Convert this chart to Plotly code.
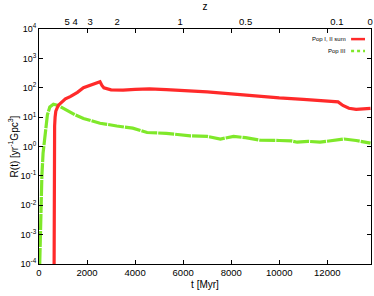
import plotly.graph_objects as go

# Pop I, II sum
t_pop12 = [625, 630, 650, 670, 700, 800, 1000, 1100, 1300, 1600, 1850, 2200, 2540, 2620, 2700,
           3000, 3500, 4000, 4600, 5300, 6300, 7000, 8000, 9000, 10000, 11000, 12000, 12450,
           12650, 12900, 13200, 13500, 13800]
r_pop12 = [1e-5, 0.5, 5, 10, 16, 25, 37, 42, 50, 70, 100, 125, 160, 120, 100,
           85, 83, 88, 92, 87, 80, 72, 62, 52, 45, 40, 35, 33,
           25, 20, 18.5, 19, 20]

# Pop III
t_pop3 = [30, 50, 80, 120, 170, 220, 280, 350, 450, 600, 800, 1150, 1500, 1850, 2200, 2540,
          3240, 3900, 4500, 5300, 6300, 7000, 7550, 8100, 8600, 9200, 10000, 10500, 10750,
          11200, 11700, 12200, 12700, 13200, 13650, 13800]
r_pop3 = [1e-4, 1e-3, 1e-2, 0.1, 0.6, 1.5, 5, 12, 22, 27.5, 25, 17, 12, 9, 7.5, 6.2,
          5, 4.2, 3.0, 2.8, 2.3, 2.2, 1.8, 2.2, 2.0, 1.65, 1.6, 1.55, 1.4,
          1.5, 1.4, 1.6, 1.8, 1.6, 1.4, 1.3]

# top axis: redshift labels at cosmic time positions
z_labels = ["5", "4", "3", "2", "1", "0.5", "0.1", "0"]
z_times = [1167, 1500, 2125, 3250, 5875, 8600, 12400, 13780]

x_ticks = [0, 2000, 4000, 6000, 8000, 10000, 12000]
x_ticktext = ["0", "2000", "4000", "6000", "8000", "10000", "12000"]
y_ticks = [1e-4, 1e-3, 1e-2, 1e-1, 1, 10, 100, 1000, 10000]
y_ticktext = ["10<sup>-4</sup>", "10<sup>-3</sup>", "10<sup>-2</sup>", "10<sup>-1</sup>",
              "10<sup>0</sup>", "10<sup>1</sup>", "10<sup>2</sup>", "10<sup>3</sup>", "10<sup>4</sup>"]

legend_names = ["Pop I, II sum", "Pop III"]
colors = ["#ff2a2a", "#7fe82a"]

XMAX = 13820
font = "Liberation Sans, Arial, sans-serif"

fig = go.Figure()
fig.add_trace(go.Scatter(x=t_pop3, y=r_pop3, mode="lines", name=legend_names[1],
                         line=dict(color=colors[1], width=3.2, dash="16px,1px"),
                         showlegend=False))
fig.add_trace(go.Scatter(x=t_pop12, y=r_pop12, mode="lines", name=legend_names[0],
                         line=dict(color=colors[0], width=3.2), showlegend=False))
# invisible trace for top axis
fig.add_trace(go.Scatter(x=[0, XMAX], y=[1, 1], xaxis="x2", mode="lines",
                         line=dict(width=0), hoverinfo="skip", showlegend=False, opacity=0))

axis_common = dict(showline=True, linecolor="black", linewidth=1, showgrid=False,
                   zeroline=False, ticks="inside", ticklen=4, tickcolor="black",
                   automargin=False)

fig.update_layout(
    width=374, height=296,
    margin=dict(l=39, r=3, t=29, b=32),
    paper_bgcolor="white", plot_bgcolor="white",
    font=dict(family=font, size=9, color="black"),
    xaxis=dict(range=[0, XMAX], tickvals=x_ticks, ticktext=x_ticktext, mirror="ticks",
               tickangle=0,
               title=dict(text="t [Myr]", font=dict(size=10), standoff=3),
               tickfont=dict(size=9.5), **axis_common),
    xaxis2=dict(range=[0, XMAX], overlaying="x", side="top", tickvals=z_times,
                ticktext=z_labels, ticks="", showline=False, showgrid=False,
                zeroline=False, tickfont=dict(size=9.5), tickangle=0, automargin=False,
                ticklabelstandoff=1,
                title=dict(text="z", font=dict(size=10), standoff=3)),
    yaxis=dict(type="log", range=[-4, 4], tickvals=y_ticks, ticktext=y_ticktext,
               mirror="ticks", tickfont=dict(size=9), tickangle=0,
               title=dict(text="R(t) [yr<sup>-1</sup>Gpc<sup>3</sup>]", font=dict(size=10), standoff=0),
               **axis_common),
)

# legend drawn as text + key lines in the top-right corner
leg_y = [0.957, 0.906]
for name, col, yy, dash in zip(legend_names, colors, leg_y, ["solid", "dot"]):
    fig.add_annotation(x=0.93, y=yy, xref="paper", yref="paper", text=name,
                       showarrow=False, xanchor="right", yanchor="middle",
                       font=dict(size=6, family=font))
    fig.add_shape(type="line", xref="paper", yref="paper", x0=0.94, x1=0.982, y0=yy, y1=yy,
                  line=dict(color=col, width=2.5, dash=dash))

fig.write_html("out.html", config={"displayModeBar": False},
               post_script="document.body.style.margin='0';document.body.style.overflow='hidden';")
